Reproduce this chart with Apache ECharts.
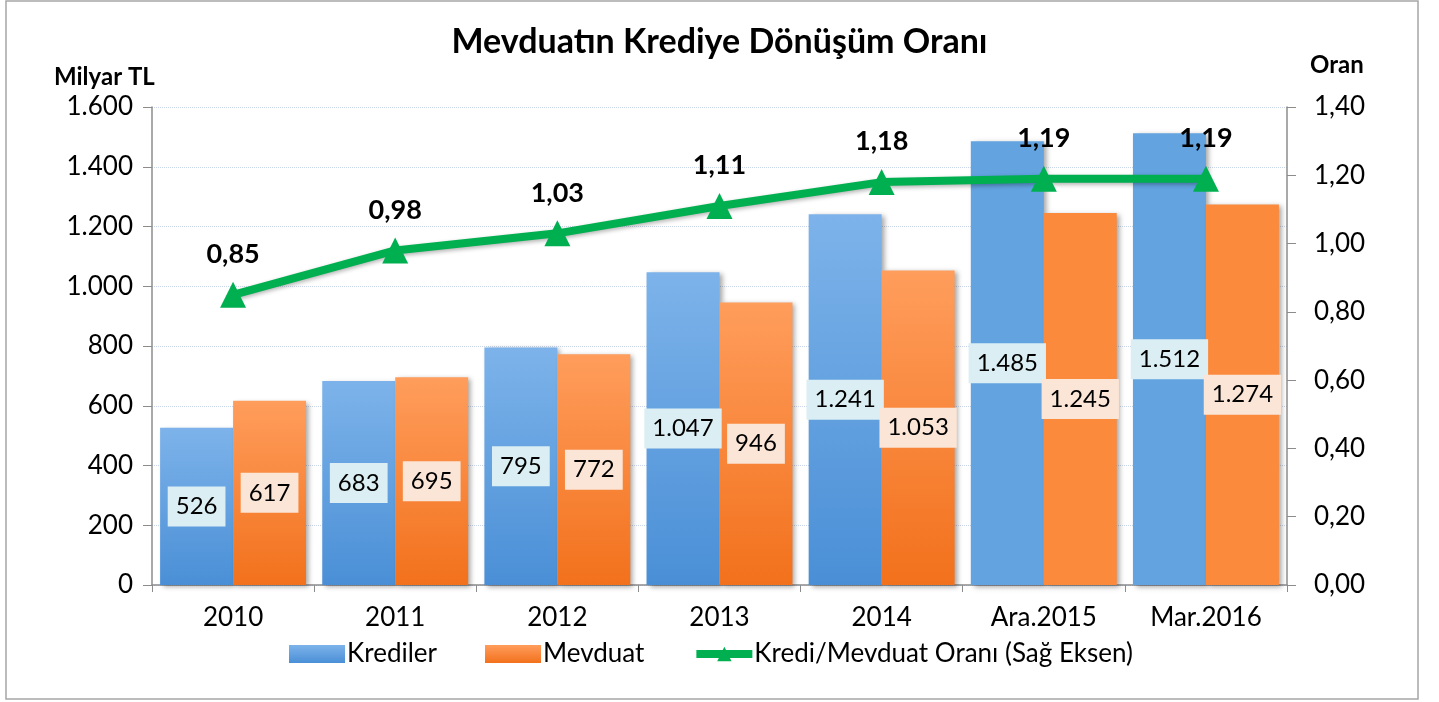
<!DOCTYPE html>
<html>
<head>
<meta charset="utf-8">
<script src="https://cdn.jsdelivr.net/npm/echarts@6/dist/echarts.min.js"></script>
<style>
  html, body { margin: 0; padding: 0; background: #fff; }
  #chart { width: 1439px; height: 702px; }
</style>
</head>
<body>
<div id="chart"></div>
<script>
const categories = ["2010", "2011", "2012", "2013", "2014", "Ara.2015", "Mar.2016"];
const krediler = [526, 683, 795, 1047, 1241, 1485, 1512];
const mevduat = [617, 695, 772, 946, 1053, 1245, 1274];
const oran = [0.85, 0.98, 1.03, 1.11, 1.18, 1.19, 1.19];

const FONT = "Lato";

// binlik ayraç nokta, ondalık virgül
const fmtInt = (v) => String(Math.round(v)).replace(/\B(?=(\d{3})+(?!\d))/g, ".");
const fmtDec = (v) => v.toFixed(2).replace(".", ",");

const grad = (top, bottom) =>
  new echarts.graphic.LinearGradient(0, 0, 0, 1, [
    { offset: 0, color: top },
    { offset: 1, color: bottom },
  ]);

const blueGrad = grad("#7db3ea", "#4a8fd6");
const orangeGrad = grad("#ff9d5c", "#f2711c");

// son iki dönem düz renk
const barData = (values, gradient, flat) =>
  values.map((v, i) => ({
    value: v,
    itemStyle: { color: i >= 5 ? flat : gradient },
  }));

const shadow = {
  shadowColor: "rgba(0,0,0,0.35)",
  shadowBlur: 5,
  shadowOffsetX: 3,
  shadowOffsetY: 2,
};

const barLabel = (bg) => ({
  show: true,
  position: "inside",
  fontFamily: FONT,
  fontSize: 24,
  color: "#000",
  backgroundColor: bg,
  padding: [9, 8, 7, 8],
  formatter: (p) => fmtInt(p.value),
});

const chart = echarts.init(document.getElementById("chart"));

chart.setOption({
  backgroundColor: "#fff",
  animation: false,
  textStyle: { fontFamily: FONT },
  title: {
    text: "Mevduatın Krediye Dönüşüm Oranı",
    left: "center",
    top: 20,
    textStyle: { fontFamily: FONT, fontSize: 34, fontWeight: "bold", color: "#000" },
  },
  graphic: [
    {
      type: "rect",
      shape: { x: 6, y: 1, width: 1412, height: 698 },
      style: { fill: "none", stroke: "#a6a6a6", lineWidth: 1.5 },
      silent: true,
    },
    {
      type: "text",
      left: 54,
      top: 65,
      style: { text: "Milyar TL", font: "bold 24px " + FONT, fill: "#000" },
    },
    {
      type: "text",
      left: 1310,
      top: 53,
      style: { text: "Oran", font: "bold 24px " + FONT, fill: "#000" },
    },
  ],
  legend: {
    bottom: 30,
    left: 284,
    itemWidth: 56,
    itemHeight: 18,
    itemGap: 48,
    textStyle: { fontFamily: FONT, fontSize: 26, color: "#000", padding: [0, 0, 0, -3] },
    data: [
      { name: "Krediler", icon: "rect" },
      { name: "Mevduat", icon: "rect" },
      {
        name: "Kredi/Mevduat Oranı (Sağ Eksen)",
        lineStyle: { width: 8 },
      },
    ],
  },
  grid: { left: 152, right: 152, top: 107, bottom: 117 },
  xAxis: {
    type: "category",
    data: categories,
    axisLine: { lineStyle: { color: "#8c8c8c", width: 1.5 } },
    axisTick: { show: true, length: 7, lineStyle: { color: "#8c8c8c" } },
    axisLabel: { fontFamily: FONT, fontSize: 26, color: "#000", margin: 20 },
  },
  yAxis: [
    {
      type: "value",
      min: 0,
      max: 1600,
      interval: 200,
      axisLine: { show: true, lineStyle: { color: "#8c8c8c", width: 1.5 } },
      axisTick: { show: true, length: 9, lineStyle: { color: "#8c8c8c" } },
      axisLabel: {
        fontFamily: FONT,
        fontSize: 26,
        color: "#000",
        margin: 19,
        formatter: (v) => fmtInt(v),
      },
      splitLine: { show: true, lineStyle: { color: "#c9d5e8", type: "dotted", width: 1 } },
    },
    {
      type: "value",
      min: 0,
      max: 1.4,
      interval: 0.2,
      position: "right",
      axisLine: { show: true, lineStyle: { color: "#8c8c8c", width: 1.5 } },
      axisTick: { show: true, length: 9, lineStyle: { color: "#8c8c8c" } },
      axisLabel: {
        fontFamily: FONT,
        fontSize: 26,
        color: "#000",
        margin: 27,
        formatter: (v) => fmtDec(v),
      },
      splitLine: { show: false },
    },
  ],
  series: [
    {
      name: "Krediler",
      type: "bar",
      barGap: "0%",
      barCategoryGap: "10%",
      itemStyle: { color: blueGrad, ...shadow },
      label: barLabel("#daeef3"),
      data: barData(krediler, blueGrad, "#62a3e0"),
    },
    {
      name: "Mevduat",
      type: "bar",
      itemStyle: { color: orangeGrad, ...shadow },
      label: barLabel("#fbe5d6"),
      data: barData(mevduat, orangeGrad, "#fb8a3c"),
    },
    {
      name: "Kredi/Mevduat Oranı (Sağ Eksen)",
      type: "line",
      yAxisIndex: 1,
      z: 5,
      symbol: "triangle",
      symbolSize: [26, 26],
      lineStyle: { color: "#00b050", width: 8, shadowColor: "rgba(0,0,0,0.3)", shadowBlur: 4, shadowOffsetY: 2 },
      itemStyle: { color: "#00b050" },
      label: {
        show: true,
        position: "top",
        distance: 14,
        fontFamily: FONT,
        fontSize: 27,
        fontWeight: "bold",
        color: "#000",
        formatter: (p) => fmtDec(p.value),
      },
      data: oran,
    },
  ],
});
</script>
</body>
</html>
